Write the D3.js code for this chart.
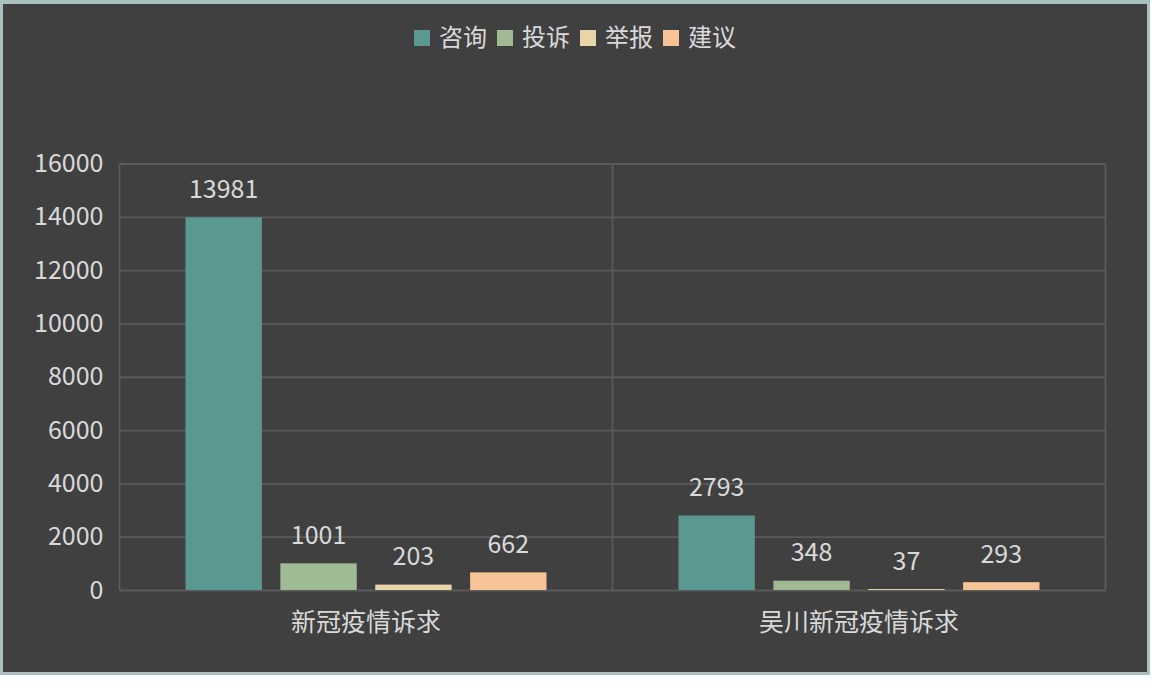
<!DOCTYPE html>
<html>
<head>
<meta charset="utf-8">
<script src="https://cdn.jsdelivr.net/npm/d3@7"></script>
<style>
  html, body { margin: 0; padding: 0; background: #fff; }
  svg { display: block; }
  text { font-family: "Noto Sans CJK SC", "Noto Sans", sans-serif; fill: #d9d9d9; }
</style>
</head>
<body>
<svg id="chart" width="1152" height="690"></svg>
<script>
const categories = ['新冠疫情诉求', '吴川新冠疫情诉求'];
const seriesNames = ['咨询', '投诉', '举报', '建议'];
const seriesColors = ['#5b9892', '#9fba94', '#e8d5a7', '#f7c497'];
// values[series][category]
const consult = [13981, 2793];
const complaint = [1001, 348];
const report = [203, 37];
const suggestion = [662, 293];
const yTicks = [0, 2000, 4000, 6000, 8000, 10000, 12000, 14000, 16000];

const seriesValues = [consult, complaint, report, suggestion];

const svg = d3.select('#chart');

// frame
svg.append('rect')
  .attr('x', 0).attr('y', 0).attr('width', 1150).attr('height', 675)
  .attr('fill', '#aabfbf');
svg.append('rect')
  .attr('x', 3).attr('y', 4).attr('width', 1144).attr('height', 668)
  .attr('fill', '#404040');

const plot = { left: 119.5, right: 1105.5, top: 163.5, bottom: 590 };

const x0 = d3.scaleBand()
  .domain(categories)
  .range([plot.left, plot.right]);

const outerGap = 66;
const x1 = d3.scaleBand()
  .domain(seriesNames)
  .range([outerGap, x0.bandwidth() - outerGap])
  .paddingInner(0.195);

const y = d3.scaleLinear()
  .domain([0, 16000])
  .range([plot.bottom, plot.top]);

const gridColor = '#5a5a5a';

// horizontal gridlines
svg.append('g')
  .attr('transform', `translate(${plot.left},0)`)
  .call(d3.axisRight(y).tickValues(yTicks).tickSize(plot.right - plot.left).tickFormat(''))
  .call(g => g.select('.domain').remove())
  .call(g => g.selectAll('line').attr('stroke', gridColor).attr('stroke-width', 1.8));

// vertical category boundaries
const bounds = categories.map(c => x0(c)).concat([plot.right]);
svg.append('g').selectAll('line')
  .data(bounds)
  .join('line')
  .attr('x1', d => d).attr('x2', d => d)
  .attr('y1', plot.top).attr('y2', plot.bottom)
  .attr('stroke', gridColor).attr('stroke-width', 1.8);

// y tick labels
svg.append('g')
  .attr('transform', `translate(${plot.left},0)`)
  .call(d3.axisLeft(y).tickValues(yTicks).tickSize(0).tickPadding(16).tickFormat(d3.format('d')))
  .call(g => g.select('.domain').remove())
  .call(g => g.selectAll('text')
    .style('font-family', '"Noto Sans CJK SC", "Noto Sans", sans-serif')
    .attr('font-size', 25).attr('fill', '#d9d9d9'));

// bars
const groups = svg.append('g').selectAll('g')
  .data(categories)
  .join('g')
  .attr('transform', c => `translate(${x0(c)},0)`);

groups.selectAll('rect')
  .data((c, ci) => seriesNames.map((s, si) => ({ s, si, v: seriesValues[si][ci] })))
  .join('rect')
  .attr('x', d => x1(d.s))
  .attr('width', x1.bandwidth())
  .attr('y', d => y(d.v))
  .attr('height', d => y(0) - y(d.v))
  .attr('fill', d => seriesColors[d.si]);

groups.selectAll('text')
  .data((c, ci) => seriesNames.map((s, si) => ({ s, si, v: seriesValues[si][ci] })))
  .join('text')
  .attr('x', d => x1(d.s) + x1.bandwidth() / 2)
  .attr('y', d => y(d.v) - 28)
  .attr('dy', '0.35em')
  .attr('text-anchor', 'middle')
  .attr('font-size', 25)
  .text(d => d.v);

// category labels
svg.append('g').selectAll('text')
  .data(categories)
  .join('text')
  .attr('x', c => x0(c) + x0.bandwidth() / 2)
  .attr('y', 622)
  .attr('dy', '0.35em')
  .attr('text-anchor', 'middle')
  .attr('font-size', 25)
  .text(c => c);

// legend
const legendX = [414, 497, 580, 663];
const legend = svg.append('g').selectAll('g')
  .data(seriesNames)
  .join('g')
  .attr('transform', (d, i) => `translate(${legendX[i]},38)`);
legend.append('rect')
  .attr('x', 0).attr('y', -8).attr('width', 16).attr('height', 16)
  .attr('fill', (d, i) => seriesColors[i]);
legend.append('text')
  .attr('x', 25).attr('y', 0).attr('dy', '0.35em')
  .attr('font-size', 24)
  .text(d => d);
</script>
</body>
</html>
